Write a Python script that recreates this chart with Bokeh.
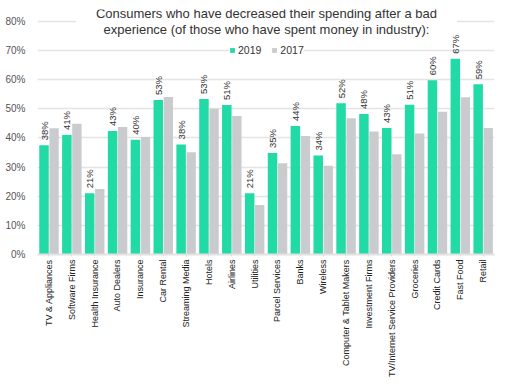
import math
from bokeh.plotting import figure
from bokeh.models import ColumnDataSource, FactorRange, FixedTicker, Label, Legend, LegendItem, CustomJSTickFormatter
from bokeh.transform import dodge
from bokeh.core.properties import value
from bokeh.embed import file_html
from bokeh.resources import INLINE

categories = ["TV & Appliances", "Software Firms", "Health Insurance", "Auto Dealers", "Insurance",
              "Car Rental", "Streaming Media", "Hotels", "Airlines", "Utilities", "Parcel Services",
              "Banks", "Wireless", "Computer & Tablet Makers", "Investment Firms",
              "TV/Internet Service Providers", "Groceries", "Credit Cards", "Fast Food", "Retail"]
values_2019 = [37.5, 41.0, 21.0, 42.4, 39.4, 53.0, 37.8, 53.4, 51.3, 21.0, 34.8, 44.1, 34.0, 51.9,
               48.2, 43.4, 51.4, 59.8, 67.2, 58.4]
values_2017 = [43.3, 44.9, 22.5, 43.8, 40.3, 54.1, 35.1, 50.0, 47.5, 17.0, 31.3, 40.7, 30.5, 46.8,
               42.2, 34.4, 41.5, 49.0, 54.0, 43.4]
labels_2019 = ["38%", "41%", "21%", "43%", "40%", "53%", "38%", "53%", "51%", "21%", "35%", "44%",
               "34%", "52%", "48%", "43%", "51%", "60%", "67%", "59%"]
y_ticks = [0, 10, 20, 30, 40, 50, 60, 70, 80]
title_lines = ["Consumers who have decreased their spending after a bad",
               "experience (of those who have spent money in industry):"]

GREEN = "#22DAA6"
GRAY = "#C9CBCE"
FONT = "Liberation Sans"

src = ColumnDataSource(dict(cat=categories, v19=values_2019, v17=values_2017, lab=labels_2019))

p = figure(width=497, height=380, x_range=FactorRange(*categories, range_padding=0),
           y_range=(0, 84.1), output_backend="svg", toolbar_location=None,
           min_border_left=37, min_border_right=3, min_border_top=9, min_border_bottom=10)
p.outline_line_color = None
p.background_fill_color = "white"

r19 = p.vbar(x=dodge("cat", -0.215, range=p.x_range), top="v19", width=0.415, source=src,
             fill_color=GREEN, line_color=None)
r17 = p.vbar(x=dodge("cat", 0.225, range=p.x_range), top="v17", width=0.41, source=src,
             fill_color=GRAY, line_color=None)

p.text(x=dodge("cat", -0.215, range=p.x_range), y="v19", text="lab", source=src,
       angle=math.pi / 2, text_align="left", text_baseline="middle", y_offset=-5,
       x_offset=0, text_font=value(FONT), text_font_size="9.5px", text_color="#333333")

p.yaxis.ticker = FixedTicker(ticks=y_ticks)
p.yaxis.formatter = CustomJSTickFormatter(code="return tick + '%';")
p.yaxis.axis_line_color = None
p.yaxis.major_tick_line_color = None
p.yaxis.minor_tick_line_color = None
p.yaxis.major_label_text_font = FONT
p.yaxis.major_label_text_font_size = "10px"
p.yaxis.major_label_text_color = "#555555"
p.yaxis.major_label_standoff = 6

p.xaxis.axis_line_color = "#E2E2E2"
p.xaxis.axis_line_width = 2
p.xaxis.major_tick_line_color = "#DDDDDD"
p.xaxis.major_tick_in = 0
p.xaxis.major_tick_out = 2
p.xaxis.major_label_orientation = math.pi / 2
p.xaxis.major_label_text_font = FONT
p.xaxis.major_label_text_font_size = "9px"
p.xaxis.major_label_text_color = "#222222"
p.xaxis.major_label_standoff = 3

p.xgrid.grid_line_color = None
p.ygrid.grid_line_color = "#E4E4E4"
p.ygrid.grid_line_width = 1.5

t1 = Label(x=10.02, y=82.7, text=title_lines[0], text_align="center", text_baseline="middle",
           text_font=FONT, text_font_size="13px", text_color="#333333",
           background_fill_color="white", padding=dict(left=20, right=20, top=2, bottom=2))
t2 = Label(x=10.02, y=77.3, text=title_lines[1], text_align="center", text_baseline="middle",
           text_font=FONT, text_font_size="13px", text_color="#333333")
p.add_layout(t1)
p.add_layout(t2)

legend = Legend(items=[LegendItem(label="2019", renderers=[r19]),
                       LegendItem(label="2017", renderers=[r17])],
                orientation="horizontal", location=(192, 198),
                glyph_width=6, glyph_height=6, label_standoff=3, spacing=10,
                label_text_font=FONT, label_text_font_size="10.5px", label_text_color="#333333",
                label_height=12, label_width=20, padding=4, margin=0,
                background_fill_color="white", background_fill_alpha=1, border_line_color=None)
p.add_layout(legend, "center")

open("out.html", "w").write(file_html(p, INLINE))
